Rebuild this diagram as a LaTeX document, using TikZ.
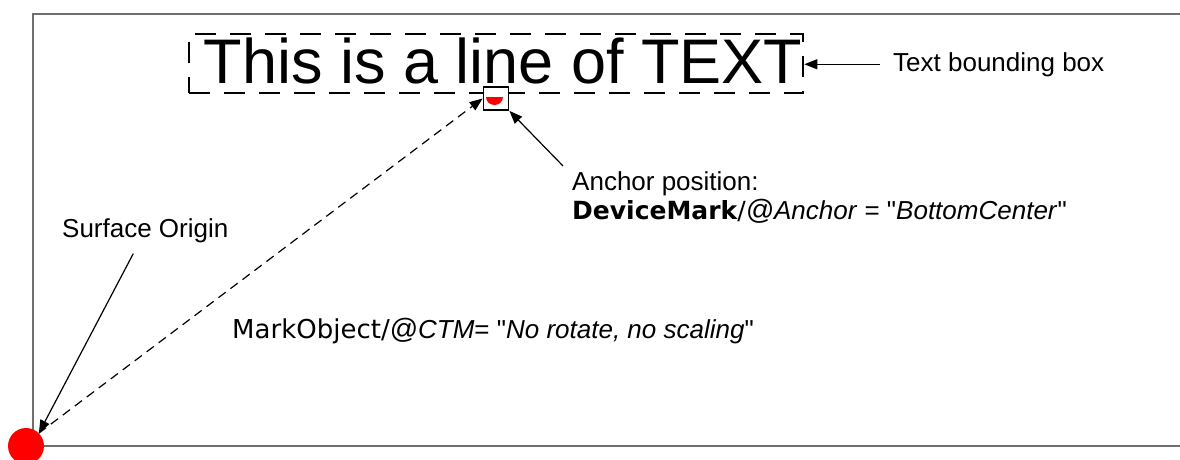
\documentclass[tikz,border=0pt]{standalone}
\usepackage{fontspec}
\setmainfont{Liberation Sans}
\newfontfamily\verdana{DejaVu Sans}
\usepackage{tikz}
\usetikzlibrary{arrows.meta,positioning}
\definecolor{framegray}{RGB}{112,112,112}
\definecolor{markred}{RGB}{255,0,0}
\newcommand{\bigat}{{\fontsize{28}{30}\selectfont @}}

\begin{document}
\begin{tikzpicture}[x=1pt, y=-1pt,
    callout/.style={font=\fontsize{26}{30}\selectfont, anchor=base west, inner sep=0pt},
    pointer/.style={-{Triangle[length=13pt,width=10pt]}, black, line width=1.2pt},
    dashpointer/.style={pointer, dash pattern=on 9pt off 6pt}
]
\useasboundingbox (0,0) rectangle (1180,459);

\draw[framegray, line width=1.6pt] (1180,14) -- (33,14) -- (33,446) -- (1180,446);

\node[rectangle, draw, dash pattern=on 21pt off 14pt, line width=2.6pt, minimum width=614pt, minimum height=59pt, inner sep=0pt] (bbox) at (496,63.5) {};
\node[font=\fontsize{63}{70}\selectfont, anchor=base, inner sep=0pt] (textline) at (503,83) {This is a line of TEXT};

\node[rectangle, draw, fill=white, line width=1.8pt, minimum width=25pt, minimum height=23pt, inner sep=0pt] (anchorbox) at (496,98.5) {};
\fill[markred] (486,97) arc[start angle=180, end angle=360, x radius=8.5pt, y radius=8pt] -- cycle;

\node[circle, fill=markred, minimum size=36pt, inner sep=0pt] (origin) at (26,446) {};

\node[callout] (bboxlabel) at (893,71) {Text bounding box};
\node[callout] (anchorlabel) at (572,190) {Anchor position:};
\node[callout] (anchorattr) at (572,219) {{\verdana\bfseries\fontsize{25}{30}\selectfont DeviceMark}{\verdana\fontsize{25}{30}\selectfont/}\textit{\bigat Anchor} = \textquotedbl\textit{BottomCenter}\textquotedbl};
\node[callout] (originlabel) at (62,237) {Surface Origin};
\node[callout] (ctmlabel) at (232,338) {{\verdana\fontsize{26}{30}\selectfont MarkObject/}\bigat\textit{CTM}= \textquotedbl\textit{No rotate, no scaling}\textquotedbl};

\draw[pointer] (bboxlabel.west) ++(-13,0) -- (bboxlabel.west -| bbox.east);
\draw[pointer] (anchorlabel.north west) ++(-9,-5) -- (anchorbox.south east);
\draw[pointer] (originlabel.south) ++(-12,11) -- (origin.north east);
\draw[dashpointer] (origin.north east) -- (anchorbox.west);
\end{tikzpicture}
\end{document}
